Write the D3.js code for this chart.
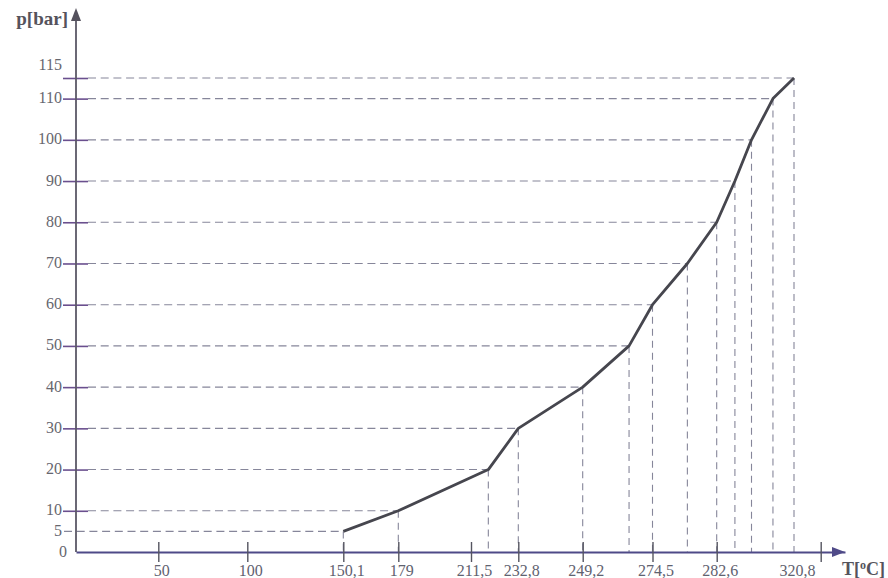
<!DOCTYPE html>
<html>
<head>
<meta charset="utf-8">
<script src="https://cdn.jsdelivr.net/npm/d3@7/dist/d3.min.js"></script>
<style>
  html, body { margin: 0; padding: 0; background: #ffffff; }
  svg { display: block; }
  text { font-family: "Liberation Serif", "Times New Roman", serif; }
</style>
</head>
<body>
<svg id="chart" width="888" height="578"></svg>
<script>
// ---- data ----
const pressures    = [5, 10, 20, 30, 40, 50, 60, 70, 80, 90, 100, 110, 115];          // p [bar]
const temperatures = [150.1, 179, 219.3, 232.8, 249.2, 266.0, 274.5, 278.9, 282.6, 291.6, 299.8, 310.4, 320.8]; // T [°C]
const yTickValues  = [0, 5, 10, 20, 30, 40, 50, 60, 70, 80, 90, 100, 110, 115];
const xTickValues  = [50, 100, 150.1, 179, 211.5, 232.8, 249.2, 274.5, 282.6, 333];
const xLabelValues = [50, 100, 150.1, 179, 211.5, 232.8, 249.2, 274.5, 282.6, 320.8];

// ---- layout ----
const W = 888, H = 578;
const originX = 76, originY = 552;
const yTopVal = 78, yAxisTip = 8;
// the original drawing uses a non-uniform (schematic) temperature axis;
// breakpoints of that axis and where they sit across the drawing
const xBreaks    = [0, 50, 100, 150.1, 179, 211.5, 232.8, 249.2, 274.5, 282.6, 320.8, 333, 348];
const xBreakPos  = [0, 82.3, 171.3, 267.3, 322.3, 395, 442.3, 506.7, 576.5, 640.7, 718, 744.7, 769];

const svg = d3.select("#chart");

const x = d3.scaleLinear().domain(xBreaks).range(xBreakPos.map(d => originX + d));
const y = d3.scaleLinear().domain([0, 115]).range([originY, yTopVal]);

const fmt = d => String(d).replace(".", ",");
const points = pressures.map((p, i) => ({ p, t: temperatures[i] }));

// ---- dashed guide lines ----
const dashColor = "#86869a";
const guides = svg.append("g");
guides.selectAll("line.h").data(points).join("line")
  .attr("class", "h")
  .attr("x1", d => d.p === 5 ? x(0) - 12 : x(0) + 12).attr("x2", d => x(d.t))
  .attr("y1", d => y(d.p)).attr("y2", d => y(d.p))
  .attr("stroke", dashColor).attr("stroke-width", 1.1)
  .attr("stroke-dasharray", "8,4.7");
guides.selectAll("line.v").data(points).join("line")
  .attr("class", "v")
  .attr("x1", d => x(d.t)).attr("x2", d => x(d.t))
  .attr("y1", d => y(d.p)).attr("y2", y(0))
  .attr("stroke", dashColor).attr("stroke-width", 1.1)
  .attr("stroke-dasharray", "7,5");

// ---- y axis ----
const yAxis = svg.append("g")
  .attr("transform", `translate(${originX},0)`)
  .call(d3.axisLeft(y).tickValues(yTickValues).tickFormat(fmt).tickSizeOuter(0));
yAxis.select(".domain").remove();
yAxis.selectAll(".tick line")
  .attr("x1", -13).attr("x2", 12)
  .attr("stroke", "#6a4f8e").attr("stroke-width", 1.6)
  .attr("display", d => (d === 0 || d === 5) ? "none" : null);
yAxis.selectAll(".tick text")
  .attr("x", d => d === 0 ? -9 : -14)
  .attr("dy", d => d === 115 ? "-0.55em" : "0.25em")
  .attr("fill", "#66666e")
  .style("font-size", "16px")
  .style("font-family", "'Liberation Serif', serif");

svg.append("line")
  .attr("x1", originX).attr("x2", originX)
  .attr("y1", y(0)).attr("y2", yAxisTip + 8)
  .attr("stroke", "#5b5866").attr("stroke-width", 1.8);
svg.append("path")
  .attr("d", d3.line()([[originX, yAxisTip], [originX - 5, yAxisTip + 13], [originX + 5, yAxisTip + 13]]) + "Z")
  .attr("fill", "#55525e");

// ---- x axis ----
const xEnd = x.range()[x.range().length - 1];
const xAxis = svg.append("g")
  .attr("transform", `translate(0,${originY})`)
  .call(d3.axisBottom(x).tickValues(xTickValues).tickFormat("").tickSizeOuter(0));
xAxis.select(".domain").attr("stroke", "#4f4a88").attr("stroke-width", 2);
xAxis.selectAll(".tick line")
  .attr("y1", -10).attr("y2", 10)
  .attr("stroke", "#555560").attr("stroke-width", 1.4);

const xLab = svg.append("g")
  .attr("transform", `translate(0,${originY})`)
  .call(d3.axisBottom(x).tickValues(xLabelValues).tickFormat(fmt).tickSize(0).tickPadding(0));
xLab.select(".domain").remove();
xLab.selectAll(".tick text")
  .attr("y", 24).attr("dy", 0).attr("dx", 3)
  .attr("fill", "#5f6270")
  .style("font-size", "16px")
  .style("font-family", "'Liberation Serif', serif");

svg.append("path")
  .attr("d", d3.line()([[xEnd, originY], [xEnd - 13, originY - 5], [xEnd - 13, originY + 5]]) + "Z")
  .attr("fill", "#4f4a88");

// ---- curve ----
svg.append("path")
  .datum(points)
  .attr("fill", "none")
  .attr("stroke", "#46464e")
  .attr("stroke-width", 2.8)
  .attr("stroke-linejoin", "round")
  .attr("d", d3.line().x(d => x(d.t)).y(d => y(d.p)));

// ---- axis titles ----
svg.append("text")
  .attr("x", originX - 8).attr("y", 25)
  .attr("text-anchor", "end")
  .attr("fill", "#55535c")
  .style("font-size", "19px").style("font-weight", "bold")
  .text("p[bar]");

const tt = svg.append("text")
  .attr("x", xEnd - 3).attr("y", 575)
  .attr("fill", "#55535c")
  .style("font-size", "18px").style("font-weight", "bold");
tt.append("tspan").text("T[");
tt.append("tspan").attr("dy", -6).style("font-size", "12px").text("o");
tt.append("tspan").attr("dy", 6).text("C]");
</script>
</body>
</html>
